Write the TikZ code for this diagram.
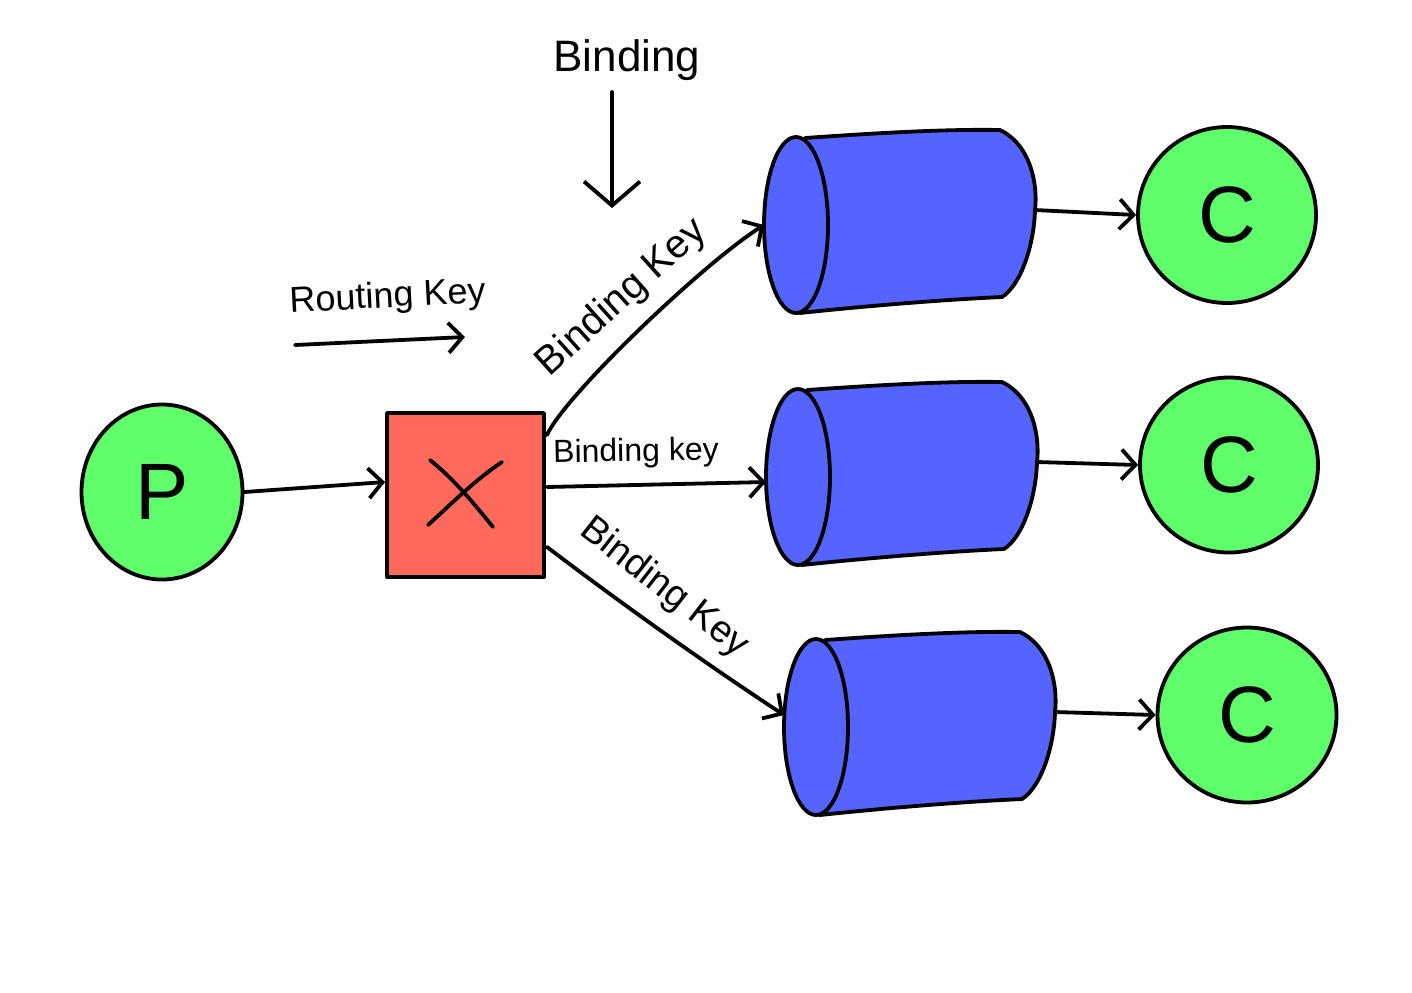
\documentclass[tikz,border=0pt]{standalone}
\usepackage{fontspec}
\setmainfont{Liberation Sans}
\usetikzlibrary{arrows.meta,calc,shapes.geometric}
\definecolor{cgreen}{HTML}{5FFF6B}
\definecolor{cred}{HTML}{FF6A5A}
\definecolor{cblue}{HTML}{5563FF}
\tikzset{
  ink/.style={line width=1.9pt, line cap=round, line join=round},
  arr/.style={ink, -{Straight Barb[length=7pt,width=15pt,line width=1.9pt]}},
  bigarr/.style={ink, -{Straight Barb[length=12pt,width=28pt,line width=1.9pt]}},
  node circ/.style={ellipse, draw, ink, fill=cgreen, inner sep=0pt, font=\fontsize{40}{40}\selectfont},
  qline/.style={ink, fill=cblue},
  lbl/.style={inner sep=0pt},
}
\newcommand\drawqueue[2]{%
  \begin{scope}[shift={#1}]
    \filldraw[qline] (9,-87) .. controls (80,-92) and (150,-96) .. (204,-95)
      .. controls (235,-80) and (242,-40) .. (239,-15)
      .. controls (238,20) and (225,60) .. (206,72)
      .. controls (140,75) and (60,82) .. (4,88) -- cycle;
    \filldraw[qline] (0,0) ellipse [x radius=32, y radius=88];
    \coordinate (#2in) at (-32,0);
    \coordinate (#2out) at (239,-15);
  \end{scope}}
\begin{document}
\begin{tikzpicture}[x=0.5pt,y=-0.5pt]
\useasboundingbox (0,0) rectangle (1412,992);

% producer
\node[node circ, minimum width=80.5pt, minimum height=87.5pt] (P) at (162,492) {P};
% exchange
\node[draw, ink, fill=cred, minimum width=78.5pt, minimum height=82pt, inner sep=0pt] (X) at (465.5,495) {};
\draw[ink] (430,460) .. controls (455,480) and (475,505) .. (493,527);
\draw[ink] (502,462) .. controls (475,480) and (450,505) .. (428,525);

% queues
\drawqueue{(796,225)}{qa}
\drawqueue{(798,477)}{qb}
\drawqueue{(816,727)}{qc}
\coordinate (qcin2) at (784,715);

% consumers
\node[node circ, minimum width=89pt, minimum height=88pt] (C1) at (1227,215) {C};
\node[node circ, minimum width=89pt, minimum height=87.5pt] (C2) at (1229,465) {C};
\node[node circ, minimum width=89.5pt, minimum height=87.5pt] (C3) at (1247,715) {C};

% connectors
\draw[arr] (P.east) -- ($(X.west)+(0,-13)$);
\draw[arr] ($(X.north east)+(1,24)$) .. controls (565,395) and (705,262) .. (qain);
\draw[arr] ($(X.east)+(1,-8)$) -- ($(qbin)+(0,5)$);
\draw[arr] ($(X.south east)+(1,-32)$) .. controls (610,595) and (700,660) .. (qcin2);
\draw[arr] (qaout) -- (C1.west);
\draw[arr] (qbout) -- (C2.west);
\draw[arr] (qcout) -- (C3.west);

% top binding arrow
\coordinate (bt) at (612,92);
\coordinate (bb) at (612,208);
\draw[bigarr] (bt) -- (bb);
% routing key arrow
\coordinate (rs) at (295,345);
\coordinate (re) at (465,337);
\draw[arr] (rs) -- (re);

% labels
\node[lbl, font=\fontsize{22}{22}\selectfont] (tb) at (627,60) {Binding};
\node[lbl, font=\fontsize{18}{18}\selectfont, rotate=3] (tr) at (388,298) {Routing Key};
\node[lbl, font=\fontsize{20}{20}\selectfont, rotate=42] (l1) at (622,298) {Binding Key};
\node[lbl, font=\fontsize{16}{16}\selectfont, rotate=1] (l2) at (636,453) {Binding key};
\node[lbl, font=\fontsize{19}{19}\selectfont, rotate=-38] (l3) at (664,588) {Binding Key};
\end{tikzpicture}
\end{document}
